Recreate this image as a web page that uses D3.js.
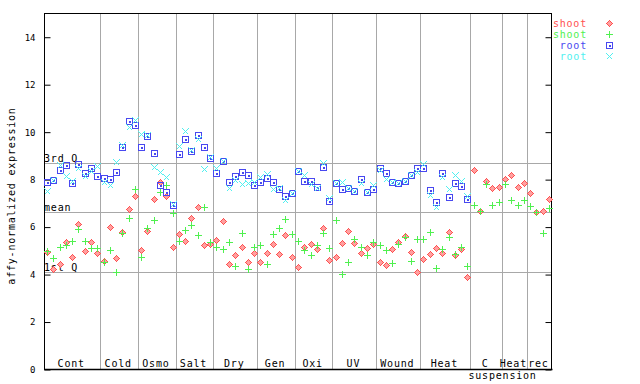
<!DOCTYPE html>
<html>
<head>
<meta charset="utf-8">
<script src="https://cdn.jsdelivr.net/npm/d3@7"></script>
<style>
  body { margin: 0; background: #fff; }
  text { font-family: "DejaVu Sans Mono", monospace; }
</style>
</head>
<body>
<div id="chart"></div>
<script>
/* DATA */
const groups = ["Cont", "Cold", "Osmo", "Salt", "Dry", "Gen", "Oxi", "UV", "Wound", "Heat", "C", "Heat", "rec"];
const groupSizes = [9, 6, 6, 6, 7, 6, 6, 7, 7, 8, 5, 4, 4];

const shootRed = [4.95, 4.23, 4.43, 5.37, 4.74, 6.12, 4.98, 5.36, 4.90,
  4.57, 5.99, 4.68, 5.80, 6.75, 7.31,
  5.04, 5.84, 7.17, 7.90, 7.31, 5.16,
  5.70, 5.42, 6.37, 6.84, 5.25, 5.30,
  5.46, 6.24, 4.43, 4.81, 5.15, 4.52, 4.90,
  4.52, 4.90, 5.27, 4.85, 5.66, 4.73,
  4.32, 5.16, 5.27, 5.06, 5.96, 4.61,
  4.73, 5.33, 5.84, 5.32, 4.90, 5.12, 5.29,
  4.52, 4.39, 5.06, 5.37, 5.61, 4.94, 4.10,
  4.66, 4.85, 5.11, 4.90, 5.79, 4.81, 5.06, 3.89,
  8.39, 6.69, 7.93, 7.64, 7.68,
  8.01, 8.18, 7.68, 7.85,
  7.43, 6.64, 6.67, 7.17];

const shootGreen = [4.99, 4.69, 5.18, 5.25, 5.43, 5.91, 5.40, 5.11, 5.11,
  4.52, 5.02, 4.10, 5.75, 6.37, 7.59,
  4.73, 5.96, 6.29, 7.47, 7.76, 6.58,
  5.40, 5.87, 6.08, 5.66, 6.84, 5.37,
  5.16, 5.06, 5.36, 4.35, 5.74, 4.22, 5.15,
  5.23, 4.43, 5.70, 5.95, 6.33, 5.70,
  5.40, 5.05, 4.81, 5.23, 5.74, 5.11,
  6.30, 4.01, 4.52, 5.50, 5.15, 4.81, 5.36,
  5.23, 5.02, 4.48, 5.27, 5.58, 4.56, 5.49,
  5.49, 5.78, 4.26, 5.06, 5.57, 4.85, 5.15, 4.35,
  6.92, 6.67, 7.82, 6.92, 7.06,
  7.82, 7.13, 6.92, 7.13,
  6.88, 6.64, 5.74, 6.79];

const rootBlue = [7.89, 8.00, 8.39, 8.60, 7.86, 8.65, 8.27, 8.48, 8.14,
  8.07, 8.01, 8.31, 9.39, 10.47, 10.29,
  9.36, 9.84, 9.11, 7.76, 7.47, 6.95,
  9.07, 9.70, 9.22, 9.87, 9.36, 8.93,
  8.27, 8.80, 7.89, 8.15, 8.31, 8.20, 7.77,
  7.89, 8.06, 7.89, 7.62, 7.30, 7.44,
  8.38, 7.93, 7.93, 7.70, 8.52, 7.09,
  7.85, 7.59, 7.64, 7.54, 8.01, 7.48, 7.59,
  8.48, 8.27, 7.89, 7.86, 7.93, 8.20, 8.48,
  8.48, 7.55, 7.05, 8.27, 7.26, 7.85, 7.72, 7.17,
  null, null, null, null, null,
  null, null, null, null,
  null, null, null, null];

const rootCyan = [7.52, 7.97, 8.63, 8.15, 7.93, 8.50, 8.14, 8.36, 8.58,
  7.90, 7.77, 8.73, 9.45, 10.23, 10.51,
  9.91, 9.87, 8.52, 8.31, 8.10, 6.97,
  9.40, 10.05, 9.25, 9.73, 8.44, 8.95,
  8.48, 8.80, 7.64, 8.00, 7.82, 7.85, 7.89,
  8.11, 8.24, 7.61, 7.64, 7.14, 7.44,
  8.38, 8.18, 7.80, 7.64, 8.70, 7.23,
  7.85, 7.90, 7.64, 7.54, 7.87, 7.48, 7.76,
  8.39, 8.01, 7.89, 7.86, 7.93, 8.20, 8.31,
  8.65, 7.34, 6.84, 8.10, 7.59, 8.18, 7.93, 7.30,
  null, null, null, null, null,
  null, null, null, null,
  null, null, null, null];

const refNames = ["3rd Q", "mean", "1st Q"];
const refValues = [8.69, 6.62, 4.10];
const yTicks = [0, 2, 4, 6, 8, 10, 12, 14];

const seriesNames = ["shoot", "shoot", "root", "root"];
const seriesColors = ["#ff5050", "#50f050", "#4848f0", "#50f0f0"];
const seriesFills = ["#ffa0a0", "none", "none", "none"];
const seriesShapes = ["diamond", "plus", "square", "cross"];
const seriesData = [shootRed, shootGreen, rootBlue, rootCyan];

/* LAYOUT */
const width = 640, height = 384;
const plotLeft = 44, plotRight = 552, plotTop = 13.5, plotBottom = 369.5;
const gridColor = "#a8a8a8";

const svg = d3.select("#chart").append("svg")
  .attr("width", width)
  .attr("height", height);

/* SCALES */
const nSamples = d3.sum(groupSizes);
const xScale = d3.scaleBand()
  .domain(d3.range(nSamples))
  .range([plotLeft, plotRight])
  .padding(0);
const yScale = d3.scaleLinear()
  .domain([0, 15])
  .range([plotBottom, plotTop]);

const groupStarts = groupSizes.map((s, i) => d3.sum(groupSizes.slice(0, i)));

// vertical separators
svg.append("g").selectAll("line")
  .data(groupStarts.slice(1))
  .join("line")
  .attr("x1", d => Math.round(xScale(d)) + 0.5)
  .attr("x2", d => Math.round(xScale(d)) + 0.5)
  .attr("y1", plotTop)
  .attr("y2", plotBottom)
  .attr("stroke", gridColor)
  .attr("stroke-width", 1);

// quartile / mean lines
svg.append("g").selectAll("line")
  .data(refValues)
  .join("line")
  .attr("x1", plotLeft)
  .attr("x2", plotRight)
  .attr("y1", d => Math.round(yScale(d)) + 0.5)
  .attr("y2", d => Math.round(yScale(d)) + 0.5)
  .attr("stroke", gridColor)
  .attr("stroke-width", 1);

svg.append("g").selectAll("text")
  .data(refValues)
  .join("text")
  .attr("x", plotLeft)
  .attr("y", d => Math.round(yScale(d)) - 1)
  .attr("font-size", 10)
  .attr("letter-spacing", 0.8)
  .attr("fill", "#000")
  .text((d, i) => refNames[i]);

/* AXES */
const yAxisL = d3.axisLeft(yScale).tickValues(yTicks).tickSize(-6).tickPadding(9).tickFormat(d3.format("d"));
const yAxisR = d3.axisRight(yScale).tickValues(yTicks).tickSize(-6).tickFormat("");

const gL = svg.append("g").attr("transform", `translate(${plotLeft + 0.5},0)`).call(yAxisL);
const gR = svg.append("g").attr("transform", `translate(${plotRight - 0.5},0)`).call(yAxisR);
[gL, gR].forEach(g => {
  g.select(".domain").remove();
  g.selectAll("line").attr("stroke", "#000");
  g.selectAll("text").attr("font-size", 9).attr("font-family", "DejaVu Sans Mono").attr("fill", "#000");
});

// frame
svg.append("rect")
  .attr("x", plotLeft + 0.5)
  .attr("y", plotTop)
  .attr("width", plotRight - plotLeft - 1)
  .attr("height", plotBottom - plotTop)
  .attr("fill", "none")
  .attr("stroke", "#000")
  .attr("stroke-width", 1);
svg.append("line")
  .attr("x1", plotLeft).attr("x2", plotRight + 0.5)
  .attr("y1", plotBottom).attr("y2", plotBottom)
  .attr("stroke", "#000").attr("stroke-width", 1.5);

// group labels
svg.append("g").selectAll("text")
  .data(groups)
  .join("text")
  .attr("x", (d, i) => xScale(groupStarts[i]) + xScale.bandwidth() * groupSizes[i] / 2 - 1)
  .attr("y", plotBottom - 2.5)
  .attr("text-anchor", "middle")
  .attr("font-size", 10)
  .attr("letter-spacing", 0.8)
  .attr("fill", "#000")
  .text(d => d);

svg.append("text")
  .attr("x", xScale(groupStarts[10]) - 2)
  .attr("y", plotBottom + 9.5)
  .attr("font-size", 10)
  .attr("letter-spacing", 0.8)
  .attr("fill", "#000")
  .text("suspension");

// y label
svg.append("text")
  .attr("transform", "translate(15,196) rotate(-90)")
  .attr("text-anchor", "middle")
  .attr("font-size", 10)
  .attr("letter-spacing", 0.8)
  .attr("fill", "#000")
  .text("affy-normalized expression");

/* MARKERS */
function markerPath(shape) {
  if (shape === "diamond") return "M0,-3L3,0L0,3L-3,0Z";
  if (shape === "plus") return "M-3.5,0H3.5M0,-3.5V3.5";
  if (shape === "square") return "M-3,-3H3V3H-3Z M-0.5,-0.5H0.5V0.5H-0.5Z";
  return "M-3,-3L3,3M-3,3L3,-3";
}

seriesData.forEach((vals, s) => {
  const pts = vals.map((v, i) => ({ i, v })).filter(d => d.v != null);
  svg.append("g").selectAll("path")
    .data(pts)
    .join("path")
    .attr("transform", d => `translate(${Math.round(xScale(d.i) + xScale.bandwidth() / 2) + 0.5},${Math.round(yScale(d.v)) + 0.5})`)
    .attr("d", markerPath(seriesShapes[s]))
    .attr("fill", seriesFills[s])
    .attr("stroke", seriesColors[s])
    .attr("stroke-width", 1)
    .attr("shape-rendering", "crispEdges");
});

/* LEGEND */
const legend = svg.append("g").selectAll("g")
  .data(seriesNames)
  .join("g")
  .attr("transform", (d, i) => `translate(0,${23.5 + i * 11})`);

legend.append("text")
  .attr("x", 587)
  .attr("y", 3.5)
  .attr("text-anchor", "end")
  .attr("font-size", 10)
  .attr("letter-spacing", 0.8)
  .attr("fill", (d, i) => seriesColors[i])
  .text(d => d);

legend.append("path")
  .attr("transform", "translate(609.5,0)")
  .attr("d", (d, i) => markerPath(seriesShapes[i]))
  .attr("fill", (d, i) => seriesFills[i])
  .attr("stroke", (d, i) => seriesColors[i])
  .attr("stroke-width", 1)
  .attr("shape-rendering", "crispEdges");
</script>
</body>
</html>
